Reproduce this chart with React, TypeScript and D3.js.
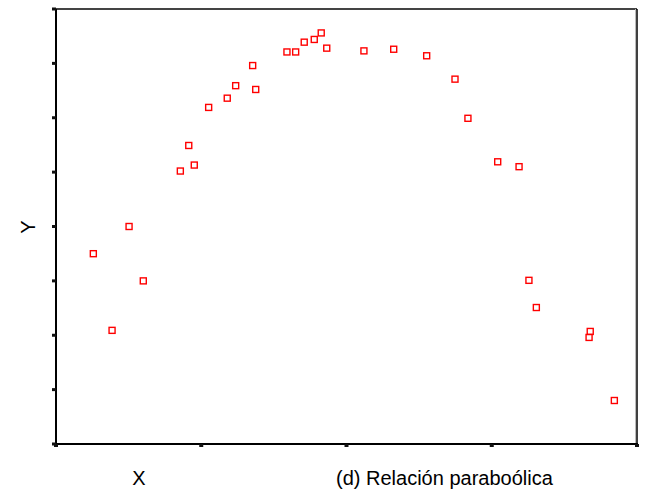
import React, { useEffect, useRef } from "react";
import * as d3 from "d3";

const xValues = [0.257, 0.386, 0.503, 0.601, 0.856, 0.914, 0.952, 1.051, 1.179, 1.237, 1.354, 1.375, 1.59, 1.65, 1.709, 1.778, 1.826, 1.864, 2.12, 2.325, 2.552, 2.747, 2.836, 3.041, 3.188, 3.256, 3.307, 3.678, 3.67, 3.844];
const yValues = [3.5, 2.09, 4.0, 3.0, 5.02, 5.49, 5.13, 6.19, 6.36, 6.59, 6.96, 6.52, 7.21, 7.21, 7.39, 7.44, 7.56, 7.28, 7.23, 7.26, 7.14, 6.71, 5.99, 5.19, 5.1, 3.01, 2.51, 2.07, 1.96, 0.8];
const xTicks = [0, 1, 2, 3, 4];
const yTicks = [0, 1, 2, 3, 4, 5, 6, 7, 8];
const xLabel = "X";
const yLabel = "Y";
const caption = "(d) Relación paraboólica";

const W = 650;
const H = 498;
const L = 56, R = 637, T = 9, B = 444;

export default function App() {
  const ref = useRef<SVGSVGElement>(null);
  useEffect(() => {
    const svg = d3.select(ref.current);
    svg.selectAll("*").remove();
    const x = d3.scaleLinear().domain([0, 4]).range([L, R]);
    const y = d3.scaleLinear().domain([0, 8]).range([B, T]);
    const font = "'Liberation Sans', Arial, sans-serif";

    svg.append("rect").attr("x", 0).attr("y", 0).attr("width", W).attr("height", H).attr("fill", "#fff");

    // frame
    svg.append("line").attr("x1", L).attr("x2", R).attr("y1", T).attr("y2", T).attr("stroke", "#444").attr("stroke-width", 2);
    svg.append("line").attr("x1", R).attr("x2", R).attr("y1", T).attr("y2", B).attr("stroke", "#bbb").attr("stroke-width", 1).attr("transform", "translate(-1.5,0)");
    svg.append("line").attr("x1", R).attr("x2", R).attr("y1", T).attr("y2", B).attr("stroke", "#000").attr("stroke-width", 1.5);
    svg.append("line").attr("x1", L).attr("x2", L).attr("y1", T).attr("y2", B + 1).attr("stroke", "#000").attr("stroke-width", 2);
    svg.append("line").attr("x1", L).attr("x2", R + 1).attr("y1", B).attr("y2", B).attr("stroke", "#000").attr("stroke-width", 2);

    // ticks
    svg.append("g").selectAll("rect").data(yTicks).join("rect")
      .attr("x", L - 4).attr("y", (d) => y(d) - 1.5).attr("width", 4).attr("height", 3).attr("fill", "#111");
    svg.append("g").selectAll("rect").data(xTicks).join("rect")
      .attr("x", (d) => x(d) - 2).attr("y", B).attr("width", 4).attr("height", 3).attr("fill", "#111");

    // points
    const pts = xValues.map((v, i) => ({ x: v, y: yValues[i] }));
    svg.append("g").selectAll("rect").data(pts).join("rect")
      .attr("x", (d) => x(d.x) - 3)
      .attr("y", (d) => y(d.y) - 3)
      .attr("width", 6).attr("height", 6)
      .attr("fill", "none").attr("stroke", "#f00").attr("stroke-width", 1.4);

    // labels
    svg.append("text").attr("x", 139).attr("y", 485).attr("text-anchor", "middle")
      .attr("font-family", font).attr("font-size", 20).attr("fill", "#000").text(xLabel);
    svg.append("text").attr("transform", "translate(35,227) rotate(-90)").attr("text-anchor", "middle")
      .attr("font-family", font).attr("font-size", 20).attr("fill", "#000").text(yLabel);
    svg.append("text").attr("x", 336).attr("y", 485).attr("text-anchor", "start")
      .attr("font-family", font).attr("font-size", 20).attr("fill", "#000").text(caption);
  }, []);
  return (
    <svg ref={ref} width={W} height={H} style={{ position: "absolute", left: 0, top: 0 }} />
  );
}
